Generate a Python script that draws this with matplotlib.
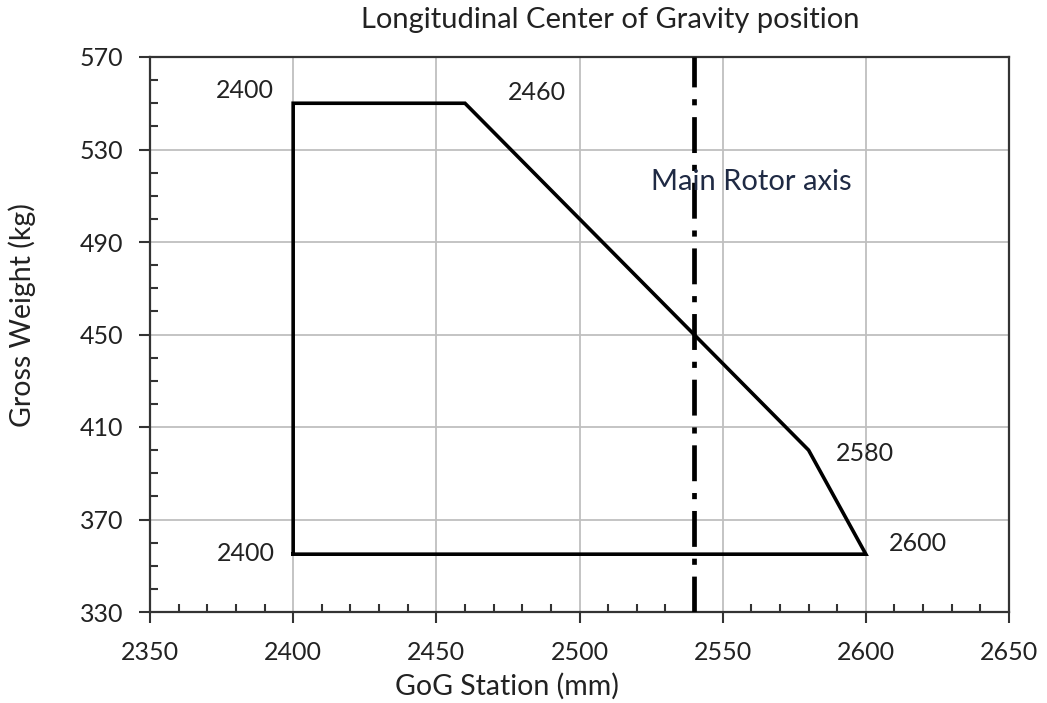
import matplotlib
matplotlib.use("Agg")
import matplotlib.pyplot as plt
from matplotlib.ticker import MultipleLocator

plt.rcParams['font.family'] = ['Lato', 'DejaVu Sans']

# Envelope vertices (closed polygon)
cg_station = [2400, 2400, 2460, 2580, 2600, 2400]
gross_weight = [355, 550, 550, 400, 355, 355]
vertex_labels = ["2400", "2400", "2460", "2580", "2600"]
label_offsets = [(-47, 1), (-48, 13), (72, 11), (56, -3), (52, 11)]  # pixels

rotor_axis_x = 2540
rotor_label = "Main Rotor axis"

x_ticks = [2350, 2400, 2450, 2500, 2550, 2600, 2650]
y_ticks = [330, 370, 410, 450, 490, 530, 570]

fig = plt.figure(figsize=(10.47, 7.03), dpi=100)
ax = fig.add_axes([150/1047, 1-612/703, (1009-150)/1047, (612-57)/703])

txt = '#222222'
numsize = 18
wordsize = 21
ax.set_xlim(2350, 2650)
ax.set_ylim(330, 570)
ax.set_xticks(x_ticks)
ax.set_yticks(y_ticks)
ax.xaxis.set_minor_locator(MultipleLocator(10))
ax.yaxis.set_minor_locator(MultipleLocator(10))
ax.grid(True, which='major', color='#bfbfbf', lw=1.3)
ax.set_axisbelow(True)
ax.tick_params(which='major', direction='out', length=8, width=1.5, colors='#333333',
               labelsize=numsize, labelcolor=txt)
ax.tick_params(axis='x', which='major', pad=13)
ax.tick_params(axis='y', which='major', pad=11)
ax.tick_params(which='minor', direction='in', length=5.5, width=1.5, colors='#333333')
for s in ax.spines.values():
    s.set_linewidth(1.6)
    s.set_color('#333333')

ax.plot(cg_station, gross_weight, color='black', lw=2.6, solid_joinstyle='miter', zorder=3)
ax.axvline(rotor_axis_x, color='black', lw=3.4, linestyle=(0, (7.6, 2.5, 1.3, 2.5)), zorder=3)

for (xv, yv), lab, off in zip(zip(cg_station[:-1], gross_weight[:-1]), vertex_labels, label_offsets):
    ax.annotate(lab, (xv, yv), xytext=off, textcoords='offset pixels',
                ha='center', va='center', fontsize=numsize, color=txt)

ax.annotate(rotor_label, (rotor_axis_x, 516), xytext=(57, 0), textcoords='offset pixels',
            ha='center', va='center', fontsize=wordsize, color='#1f2a44')

fig.text(610/1047, 1-20/703, "Longitudinal Center of Gravity position", ha='center', va='center',
         fontsize=wordsize, color=txt)
fig.text(507/1047, 1-686/703, "GoG Station (mm)", ha='center', va='center', fontsize=20.5, color=txt)
fig.text(22/1047, 1-315/703, "Gross Weight (kg)", ha='center', va='center', rotation=90,
         fontsize=20.5, color=txt)

fig.savefig("out.png", dpi=100)
